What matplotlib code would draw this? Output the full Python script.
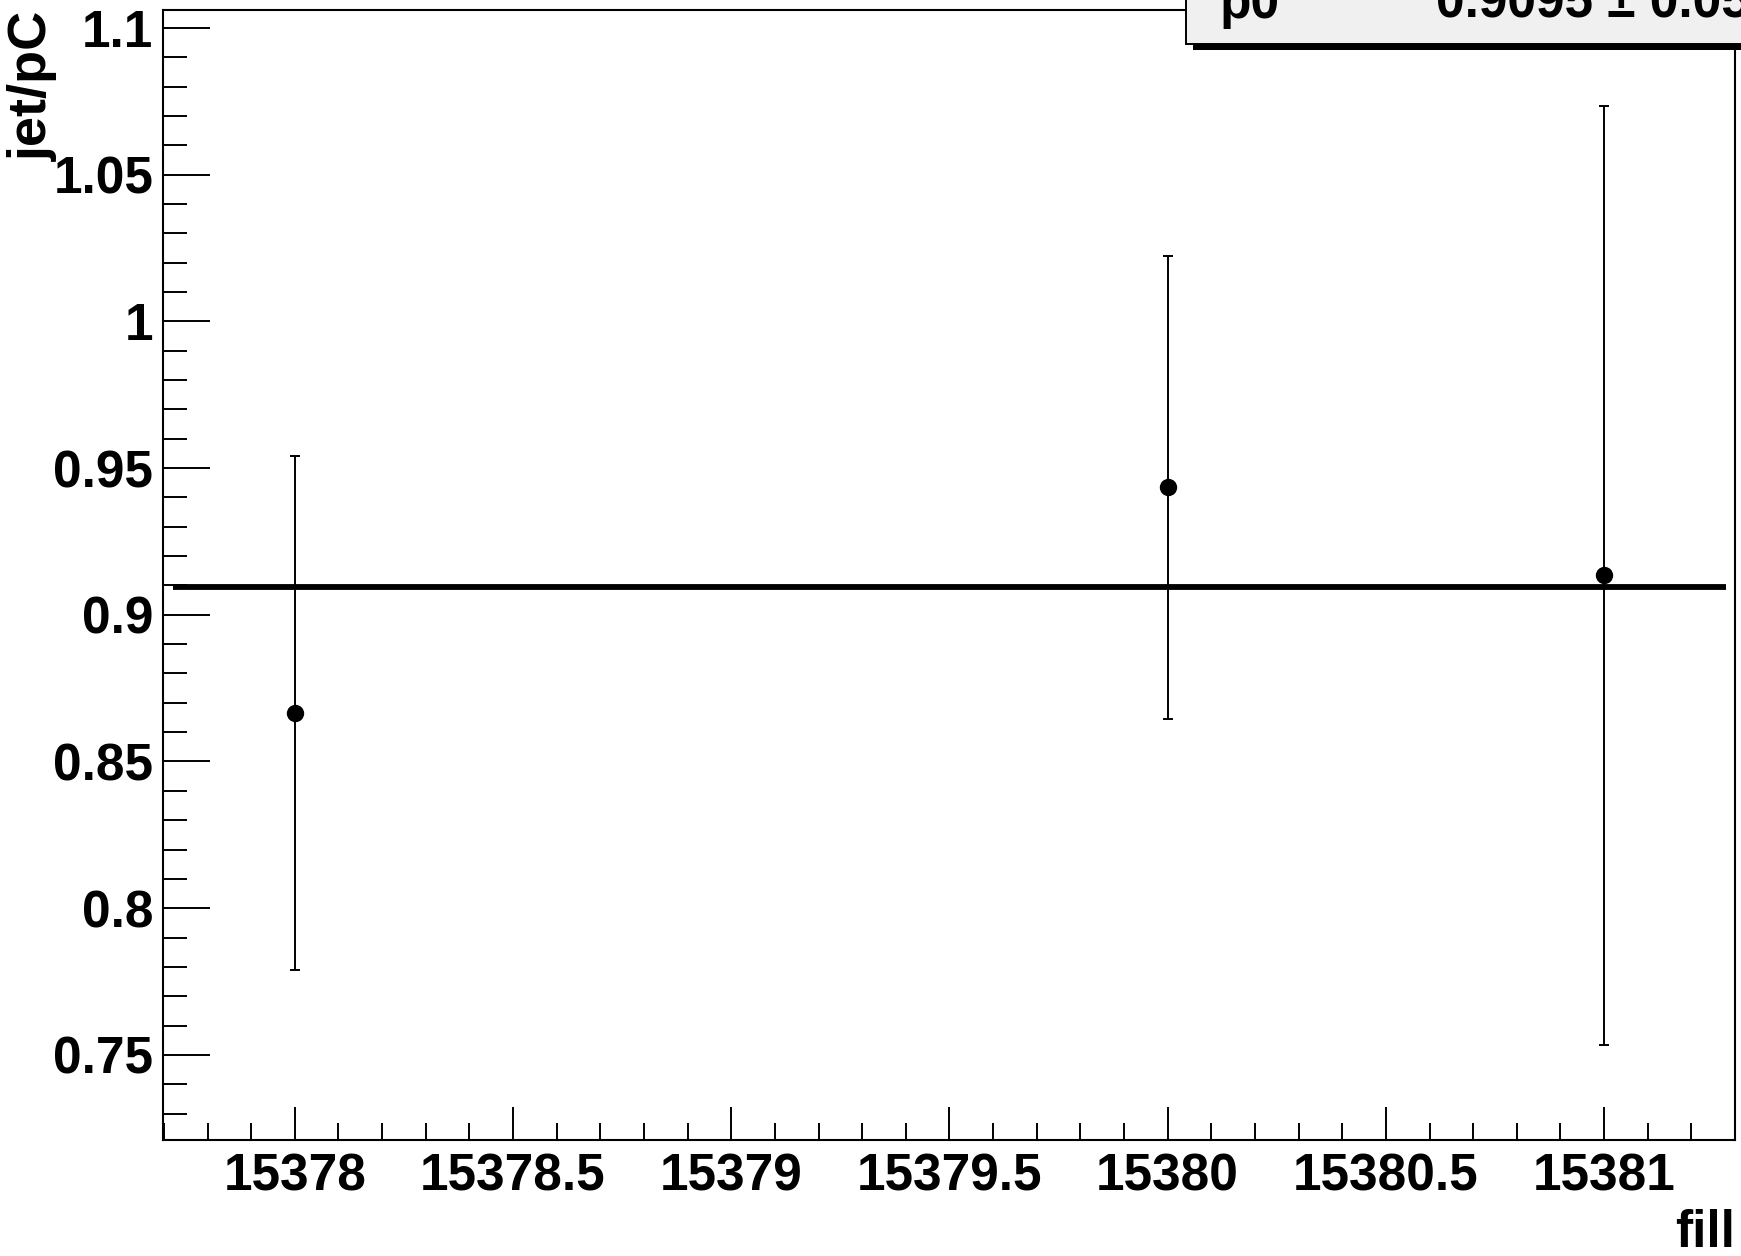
import matplotlib
matplotlib.use("Agg")
import matplotlib.pyplot as plt
from matplotlib.patches import Rectangle
from matplotlib.ticker import MultipleLocator, FuncFormatter

# data
fills = [15378, 15380, 15381]
ratio = [0.8666, 0.9434, 0.9135]
ratio_err = [0.0875, 0.079, 0.160]
p0 = 0.9095
p0_err = 0.0551

plt.rcParams['font.family'] = ['Liberation Sans', 'DejaVu Sans']
plt.rcParams['font.weight'] = 'bold'

W, H = 1741, 1256
fig = plt.figure(figsize=(W / 100, H / 100), dpi=100)
ax = fig.add_axes([163 / W, 1 - 1140 / H, (1735 - 163) / W, (1140 - 10) / H])

# constant fit
ax.plot([15377.72, 15381.28], [p0, p0], color='black', lw=4.2, solid_capstyle='butt', zorder=2)

ax.errorbar(fills, ratio, yerr=ratio_err, fmt='o', color='black', ms=11.5,
            elinewidth=1.4, capsize=3.6, capthick=1.4, zorder=3)

ax.set_xlim(15377.698, 15381.30)
ax.set_ylim(0.7210, 1.1061)

ax.xaxis.set_major_locator(MultipleLocator(0.5))
ax.xaxis.set_minor_locator(MultipleLocator(0.1))
ax.yaxis.set_major_locator(MultipleLocator(0.05))
ax.yaxis.set_minor_locator(MultipleLocator(0.01))
ax.xaxis.set_major_formatter(FuncFormatter(lambda v, p: f"{v:g}"))
ax.yaxis.set_major_formatter(FuncFormatter(lambda v, p: f"{v:g}"))

ax.tick_params(axis='x', which='major', direction='in', length=24, width=1.4, labelsize=37, pad=9)
ax.tick_params(axis='x', which='minor', direction='in', length=12, width=1.4)
ax.tick_params(axis='y', which='major', direction='in', length=34, width=1.4, labelsize=37, pad=7)
ax.tick_params(axis='y', which='minor', direction='in', length=17, width=1.4)
for lab in ax.get_xticklabels() + ax.get_yticklabels():
    lab.set_fontweight('bold')
for s in ax.spines.values():
    s.set_linewidth(1.5)

fig.text(1735 / W, 1 - 1247 / H, "fill", ha='right', va='baseline', fontsize=37, fontweight='bold')
fig.text(33 / W, 1 - 11 / H, "jet/pC", rotation=90, ha='center', va='top', fontsize=39, fontweight='bold')

# stats box, cut off by the top/right edges
fig.patches.append(Rectangle((1193 / W, 1 - 50 / H), 700 / W, 60 / H, transform=fig.transFigure,
                             facecolor='black', edgecolor='none', zorder=4))
fig.patches.append(Rectangle((1186 / W, 1 - 44 / H), 700 / W, 60 / H, transform=fig.transFigure,
                             facecolor='#f0f0f0', edgecolor='black', lw=1.4, zorder=5))
fig.text(1220 / W, 1 - 18 / H, "p0", ha='left', va='baseline', fontsize=37, fontweight='bold', zorder=6)
fig.text(1436 / W, 1 - 18 / H, f"{p0:.4f} \u00b1 {p0_err:.4f}", ha='left', va='baseline',
         fontsize=37, fontweight='bold', zorder=6)

fig.savefig("out.png", dpi=100)
